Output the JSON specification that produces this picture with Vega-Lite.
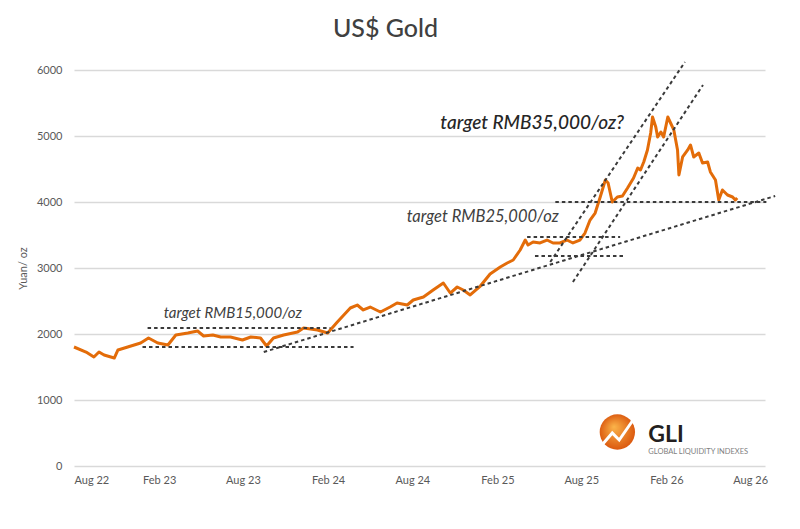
{
  "$schema": "https://vega.github.io/schema/vega-lite/v6.json",
  "width": 691,
  "height": 396,
  "autosize": "none",
  "padding": {"left": 74, "top": 70, "right": 35, "bottom": 63},
  "background": "white",
  "title": {"text": "US$ Gold", "font": "Lato", "fontSize": 25, "fontWeight": 500, "color": "#404040", "offset": 16, "dx": -34, "anchor": "middle"},
  "config": {
    "view": {"stroke": null},
    "font": "Lato",
    "axis": {"labelFont": "Lato", "titleFont": "Lato", "labelColor": "#595959", "titleColor": "#595959", "labelFontSize": 11, "titleFontSize": 11, "titleFontWeight": "normal", "domain": false, "ticks": false, "gridColor": "#d9d9d9", "gridWidth": 1.3}
  },
  "datasets": {
    "gold": [
      {"date": "2022-08-01", "value": 1803}, {"date": "2022-08-27", "value": 1727}, {"date": "2022-09-13", "value": 1652}, {"date": "2022-09-24", "value": 1727},
      {"date": "2022-10-05", "value": 1682}, {"date": "2022-10-27", "value": 1636}, {"date": "2022-11-04", "value": 1758}, {"date": "2022-11-25", "value": 1803},
      {"date": "2022-12-23", "value": 1864}, {"date": "2023-01-09", "value": 1939}, {"date": "2023-01-29", "value": 1864}, {"date": "2023-02-20", "value": 1833},
      {"date": "2023-03-09", "value": 1985}, {"date": "2023-04-04", "value": 2015}, {"date": "2023-04-25", "value": 2045}, {"date": "2023-05-08", "value": 1970},
      {"date": "2023-05-28", "value": 1985}, {"date": "2023-06-14", "value": 1955}, {"date": "2023-07-05", "value": 1955}, {"date": "2023-07-31", "value": 1909},
      {"date": "2023-08-18", "value": 1955}, {"date": "2023-09-08", "value": 1939}, {"date": "2023-09-21", "value": 1818}, {"date": "2023-10-06", "value": 1939},
      {"date": "2023-10-28", "value": 1985}, {"date": "2023-11-27", "value": 2030}, {"date": "2023-12-10", "value": 2091}, {"date": "2024-01-09", "value": 2061},
      {"date": "2024-01-31", "value": 2015}, {"date": "2024-02-21", "value": 2182}, {"date": "2024-03-20", "value": 2394}, {"date": "2024-04-04", "value": 2439},
      {"date": "2024-04-17", "value": 2364}, {"date": "2024-05-02", "value": 2409}, {"date": "2024-05-24", "value": 2333}, {"date": "2024-06-14", "value": 2409},
      {"date": "2024-06-29", "value": 2470}, {"date": "2024-07-21", "value": 2439}, {"date": "2024-08-03", "value": 2515}, {"date": "2024-08-25", "value": 2561},
      {"date": "2024-09-15", "value": 2667}, {"date": "2024-10-07", "value": 2773}, {"date": "2024-10-22", "value": 2621}, {"date": "2024-11-06", "value": 2712},
      {"date": "2024-11-19", "value": 2667}, {"date": "2024-12-04", "value": 2591}, {"date": "2024-12-26", "value": 2727}, {"date": "2025-01-16", "value": 2909},
      {"date": "2025-02-07", "value": 3015}, {"date": "2025-02-22", "value": 3076}, {"date": "2025-03-07", "value": 3121}, {"date": "2025-03-22", "value": 3273},
      {"date": "2025-04-02", "value": 3424}, {"date": "2025-04-08", "value": 3348}, {"date": "2025-04-19", "value": 3394}, {"date": "2025-05-04", "value": 3379},
      {"date": "2025-05-19", "value": 3424}, {"date": "2025-06-01", "value": 3379}, {"date": "2025-06-16", "value": 3379}, {"date": "2025-07-01", "value": 3424},
      {"date": "2025-07-14", "value": 3379}, {"date": "2025-07-29", "value": 3424}, {"date": "2025-08-09", "value": 3530}, {"date": "2025-08-20", "value": 3727},
      {"date": "2025-08-31", "value": 3833}, {"date": "2025-09-11", "value": 4076}, {"date": "2025-09-22", "value": 4333}, {"date": "2025-09-28", "value": 4288},
      {"date": "2025-10-07", "value": 4000}, {"date": "2025-10-18", "value": 4076}, {"date": "2025-10-29", "value": 4091}, {"date": "2025-11-09", "value": 4212},
      {"date": "2025-11-22", "value": 4364}, {"date": "2025-12-01", "value": 4515}, {"date": "2025-12-07", "value": 4485}, {"date": "2025-12-14", "value": 4606},
      {"date": "2025-12-22", "value": 4788}, {"date": "2025-12-29", "value": 5045}, {"date": "2026-01-02", "value": 5288}, {"date": "2026-01-09", "value": 5136},
      {"date": "2026-01-13", "value": 4985}, {"date": "2026-01-20", "value": 5061}, {"date": "2026-01-26", "value": 4985}, {"date": "2026-02-04", "value": 5288},
      {"date": "2026-02-10", "value": 5197}, {"date": "2026-02-17", "value": 5091}, {"date": "2026-02-25", "value": 4788}, {"date": "2026-02-28", "value": 4409},
      {"date": "2026-03-08", "value": 4682}, {"date": "2026-03-19", "value": 4788}, {"date": "2026-03-25", "value": 4864}, {"date": "2026-04-01", "value": 4682},
      {"date": "2026-04-12", "value": 4742}, {"date": "2026-04-20", "value": 4591}, {"date": "2026-05-01", "value": 4606}, {"date": "2026-05-07", "value": 4455},
      {"date": "2026-05-18", "value": 4333}, {"date": "2026-05-25", "value": 4030}, {"date": "2026-06-02", "value": 4182}, {"date": "2026-06-13", "value": 4106},
      {"date": "2026-06-24", "value": 4076}, {"date": "2026-06-30", "value": 4030}, {"date": "2026-07-04", "value": 4061}
    ],
    "trend": [
      {"id": "a", "date": "2023-01-07", "value": 2091}, {"id": "a", "date": "2024-02-06", "value": 2091},
      {"id": "b", "date": "2022-12-27", "value": 1803}, {"id": "b", "date": "2024-03-27", "value": 1803},
      {"id": "c", "date": "2023-09-15", "value": 1727}, {"id": "c", "date": "2026-09-24", "value": 4091},
      {"id": "d", "date": "2025-04-06", "value": 3470}, {"id": "d", "date": "2025-10-24", "value": 3470},
      {"id": "e", "date": "2025-04-23", "value": 3182}, {"id": "e", "date": "2025-10-31", "value": 3182},
      {"id": "f", "date": "2025-06-06", "value": 4000}, {"id": "f", "date": "2026-09-05", "value": 4000},
      {"id": "g", "date": "2025-05-26", "value": 3091}, {"id": "g", "date": "2026-03-13", "value": 6121},
      {"id": "h", "date": "2025-07-14", "value": 2788}, {"id": "h", "date": "2026-04-21", "value": 5773}
    ]
  },
  "encoding": {
    "x": {
      "field": "date", "type": "temporal",
      "scale": {"type": "utc", "domain": [{"year": 2022, "month": 8, "date": 1, "utc": true}, {"year": 2026, "month": 9, "date": 2, "utc": true}]},
      "axis": {
        "title": null, "grid": false, "format": "%b %y", "labelPadding": 8,
        "values": [
          {"year": 2022, "month": 8, "date": 1, "utc": true}, {"year": 2023, "month": 2, "date": 1, "utc": true},
          {"year": 2023, "month": 8, "date": 1, "utc": true}, {"year": 2024, "month": 2, "date": 1, "utc": true},
          {"year": 2024, "month": 8, "date": 1, "utc": true}, {"year": 2025, "month": 2, "date": 1, "utc": true},
          {"year": 2025, "month": 8, "date": 1, "utc": true}, {"year": 2026, "month": 2, "date": 1, "utc": true},
          {"year": 2026, "month": 8, "date": 1, "utc": true}
        ]
      }
    },
    "y": {
      "field": "value", "type": "quantitative",
      "scale": {"domain": [0, 6000], "nice": false, "zero": true},
      "axis": {"title": "Yuan/ oz", "values": [0, 1000, 2000, 3000, 4000, 5000, 6000], "format": "d", "grid": true, "labelPadding": 12, "titlePadding": 8}
    }
  },
  "layer": [
    {
      "data": {"name": "gold"},
      "mark": {"type": "line", "color": "#e36c09", "strokeWidth": 3, "strokeJoin": "round"}
    },
    {
      "data": {"name": "trend"},
      "mark": {"type": "line", "color": "#3a3a3a", "strokeWidth": 2, "strokeDash": [3.5, 3]},
      "encoding": {"detail": {"field": "id"}}
    },
    {
      "data": {"values": [{"date": "2023-07-10", "value": 2318, "label": "target RMB15,000/oz"}]},
      "mark": {"type": "text", "font": "Lato", "fontSize": 15, "fontStyle": "italic", "color": "#404040", "align": "center", "baseline": "middle"},
      "encoding": {"text": {"field": "label"}}
    },
    {
      "data": {"values": [{"date": "2024-12-31", "value": 3773, "label": "target RMB25,000/oz"}]},
      "mark": {"type": "text", "font": "Lato", "fontSize": 16.5, "fontStyle": "italic", "color": "#404040", "align": "center", "baseline": "middle"},
      "encoding": {"text": {"field": "label"}}
    },
    {
      "data": {"values": [{"date": "2025-04-17", "value": 5197, "label": "target RMB35,000/oz?"}]},
      "mark": {"type": "text", "font": "Lato", "fontSize": 19, "fontStyle": "italic", "fontWeight": 500, "color": "#262626", "align": "center", "baseline": "middle"},
      "encoding": {"text": {"field": "label"}}
    },
    {
      "data": {"values": [{"date": "2025-10-18", "value": 515}]},
      "mark": {"type": "point", "shape": "circle", "filled": true, "size": 1250, "opacity": 1,
        "fill": {"gradient": "radial", "x1": 0.4, "y1": 0.35, "r1": 0, "x2": 0.5, "y2": 0.5, "r2": 0.55,
          "stops": [{"offset": 0, "color": "#fbb44a"}, {"offset": 1, "color": "#d9530b"}]}}
    },
    {
      "data": {"values": [
        {"date": "2025-09-11", "value": 288}, {"date": "2025-10-07", "value": 500},
        {"date": "2025-10-22", "value": 394}, {"date": "2025-11-24", "value": 727}
      ]},
      "mark": {"type": "line", "color": "white", "strokeWidth": 3}
    },
    {
      "data": {"values": [{"date": "2025-12-24", "value": 470, "label": "GLI"}]},
      "mark": {"type": "text", "font": "Lato", "fontSize": 23, "fontWeight": "bold", "color": "#231f20", "align": "left", "baseline": "middle"},
      "encoding": {"text": {"field": "label"}}
    },
    {
      "data": {"values": [{"date": "2025-12-24", "value": 212, "label": "GLOBAL LIQUIDITY INDEXES"}]},
      "mark": {"type": "text", "font": "Lato", "fontSize": 7.5, "color": "#808080", "align": "left", "baseline": "middle"},
      "encoding": {"text": {"field": "label"}}
    }
  ]
}
